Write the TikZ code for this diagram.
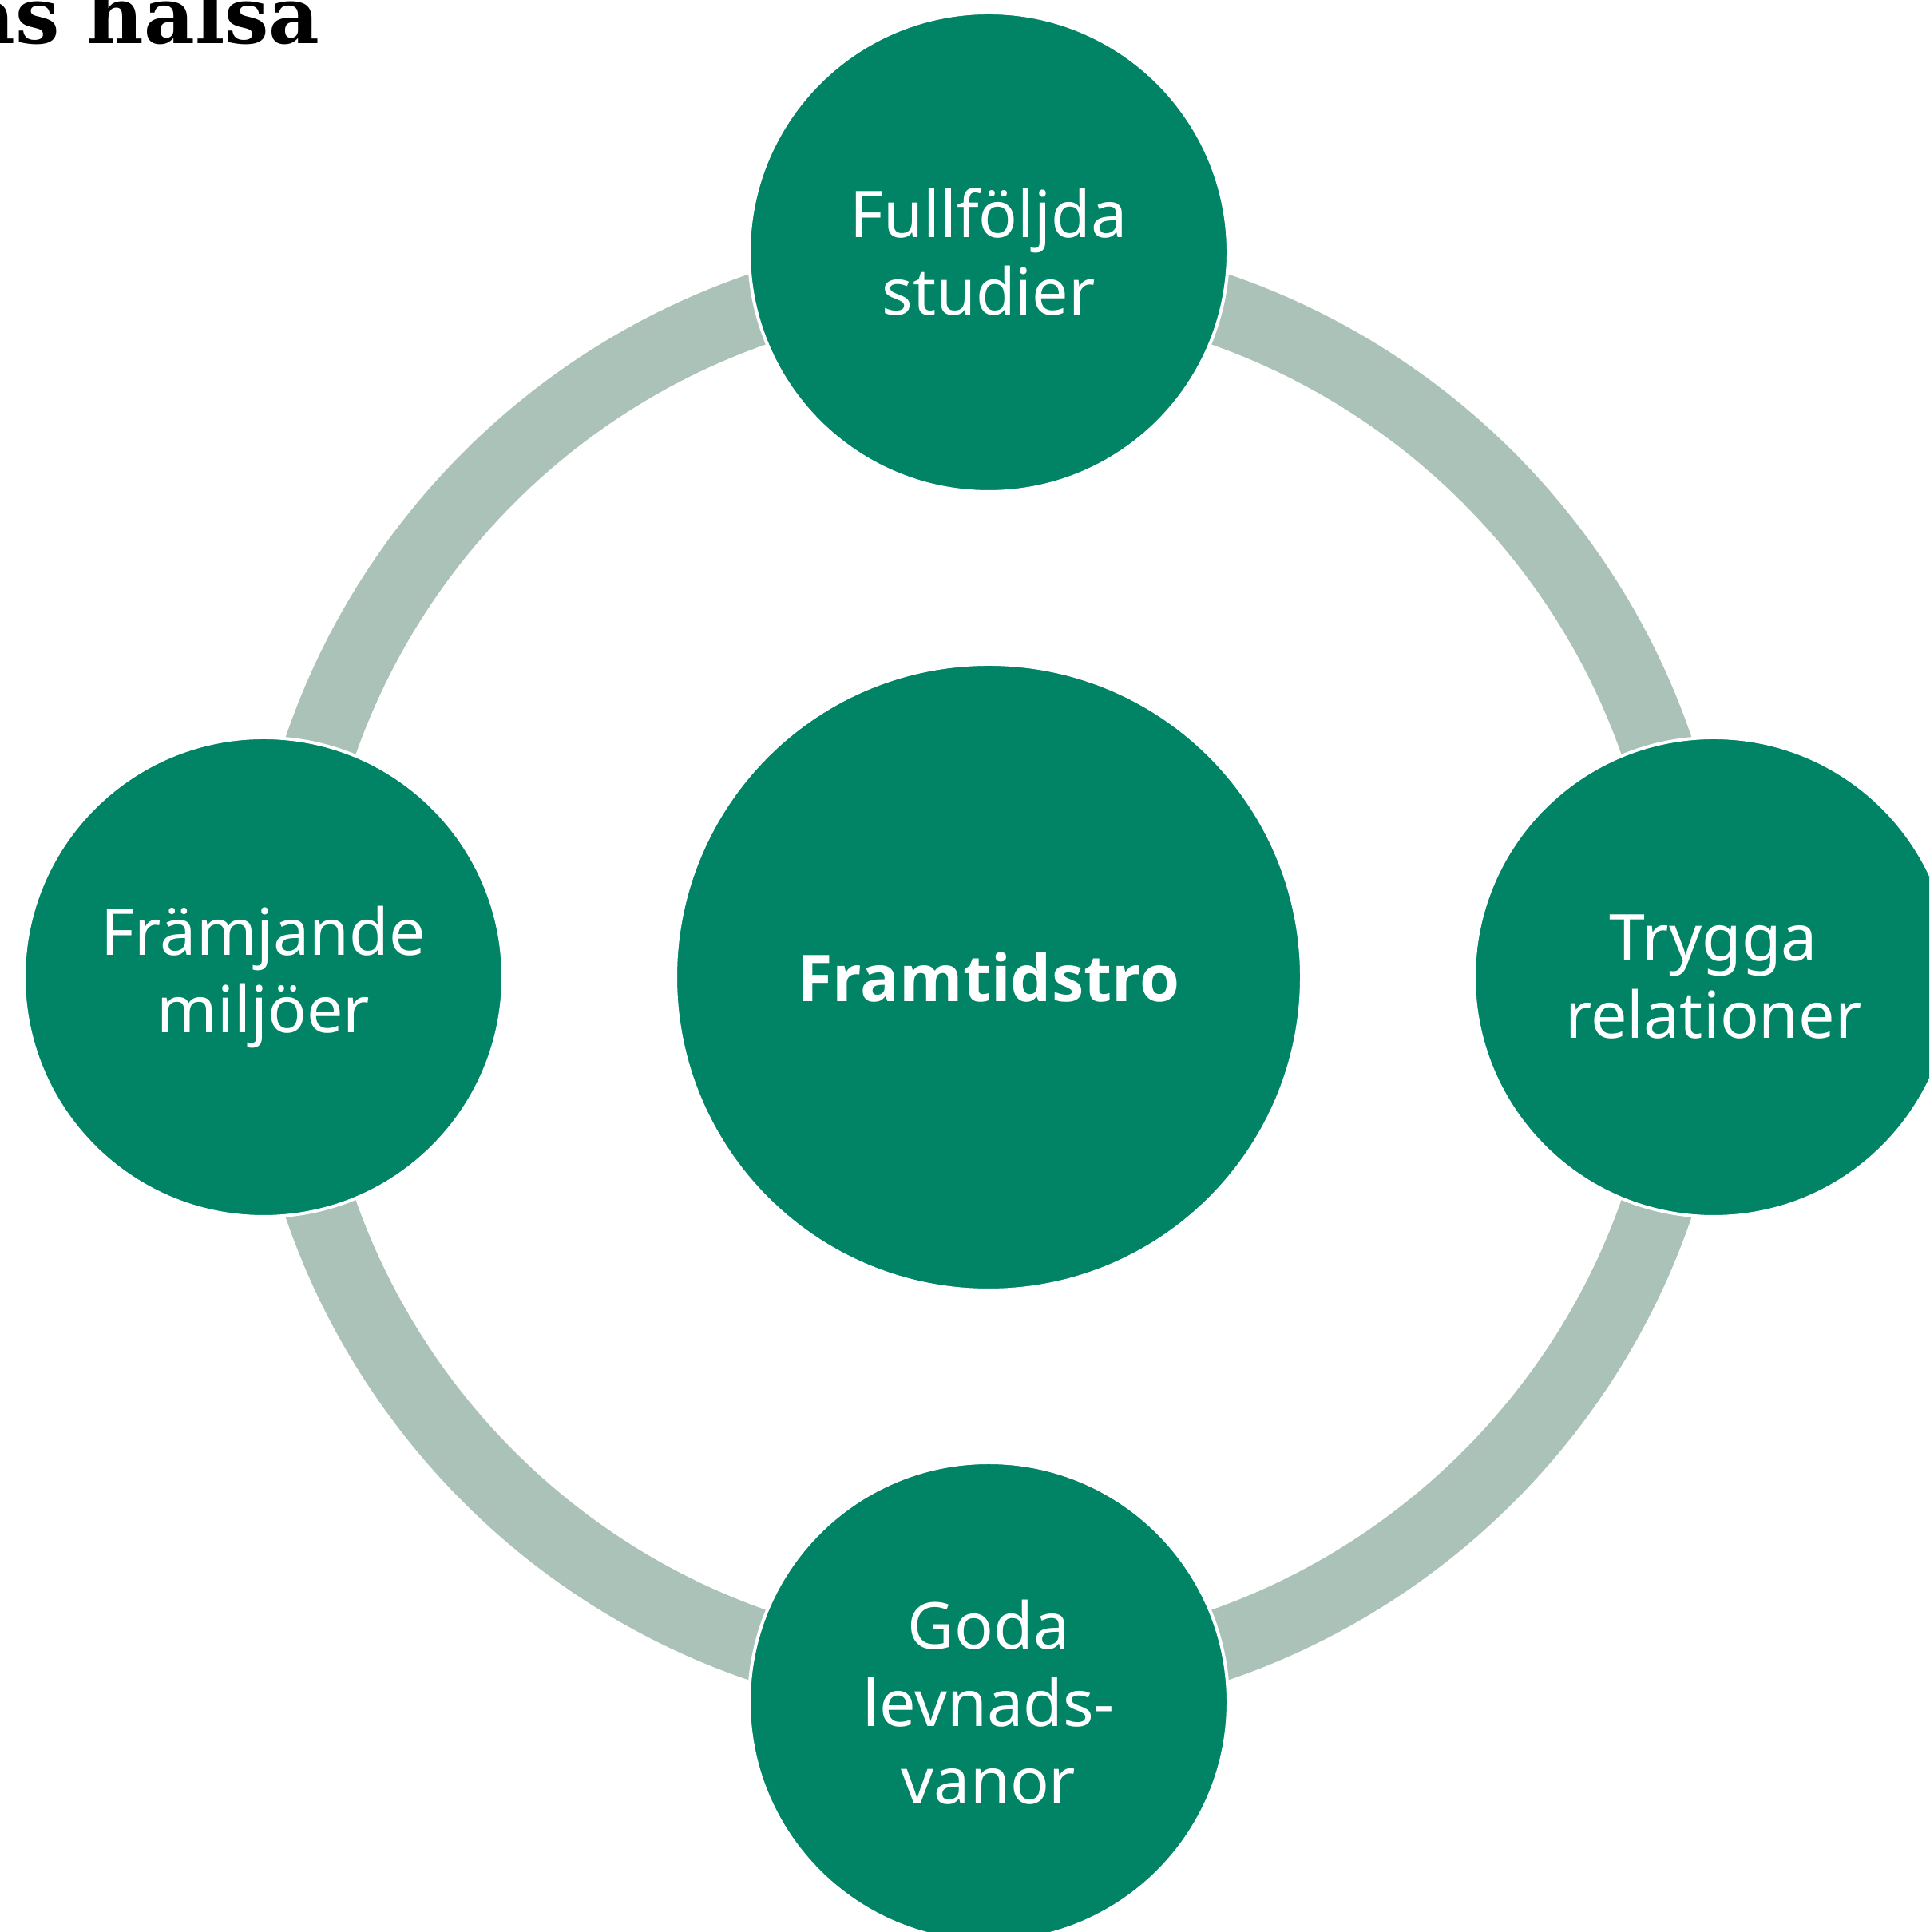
\documentclass[tikz,border=0pt]{standalone}
\usepackage{fontspec}
\setmainfont{Noto Sans}
\newfontfamily\hubfont{Open Sans}
\newfontfamily\titlefont{DejaVu Serif}
\usetikzlibrary{positioning}
\definecolor{ringgreen}{RGB}{0,132,101}
\definecolor{ringgray}{RGB}{171,194,184}
\tikzset{
  bubble/.style={circle, fill=ringgreen, draw=white, line width=0.04cm, inner sep=0pt,
    minimum size=6cm, text=white, align=center, font=\fontsize{23}{27.6}\selectfont},
  hub/.style={bubble, minimum size=7.84cm, font=\hubfont\bfseries\fontsize{23}{27.6}\selectfont},
  cycle/.style={draw=ringgray, line width=0.9cm}
}
\begin{document}
\begin{tikzpicture}[node distance=9.08cm, on grid]
\useasboundingbox (0,0) rectangle (24.16,24.20);
\clip (0,0) rectangle (24.16,24.20);
\node[anchor=base east, font=\titlefont\bfseries\fontsize{28}{32}\selectfont] (titel) at (4.13,23.65) {as hälsa};
\node[hub] (framtid) at (12.38,11.96) {Framtidstro};
\draw[cycle] (framtid.center) circle (8.85);
\node[bubble, above=of framtid] (studier) {Fullföljda\\studier};
\node[bubble, right=of framtid] (relationer) {Trygga\\relationer};
\node[bubble, below=of framtid] (vanor) {Goda\\levnads-\\vanor};
\node[bubble, left=of framtid] (miljoer) {Främjande\\miljöer};
\end{tikzpicture}
\end{document}
